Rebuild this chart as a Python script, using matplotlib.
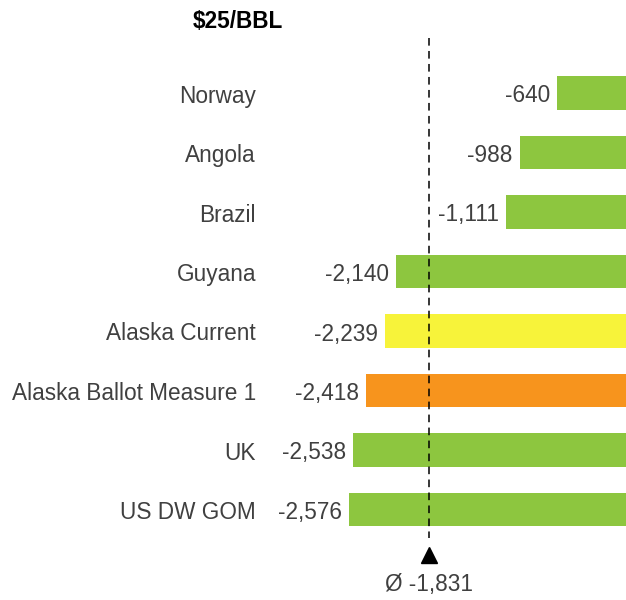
import matplotlib
matplotlib.use("Agg")
import matplotlib.pyplot as plt

categories = ["Norway", "Angola", "Brazil", "Guyana", "Alaska Current",
              "Alaska Ballot Measure 1", "UK", "US DW GOM"]
values = [-640, -988, -1111, -2140, -2239, -2418, -2538, -2576]
kinds = ["other", "other", "other", "other", "current", "ballot", "other", "other"]
average = -1831
title = "$25/BBL"

color_map = {"other": "#8DC63F", "current": "#F7F33A", "ballot": "#F7941D"}

plt.rcParams['font.family'] = ['Liberation Sans', 'DejaVu Sans']

W, H = 626, 600
fig = plt.figure(figsize=(W / 100, H / 100), dpi=100)
ax = fig.add_axes([0, 0, 1, 1])

scale = 0.1077  # px per unit
spacing = 59.5
y0 = 93
xmin = -W / scale
ax.set_xlim(xmin, 0)
ax.set_ylim((H - y0) / spacing, -y0 / spacing)
ax.axis("off")

def px2x(px):
    return -(W - px) / scale

def py2y(py):
    return (py - y0) / spacing

ypos = list(range(len(categories)))
ax.barh(ypos, values, height=0.57, color=[color_map[k] for k in kinds], zorder=1)

txt_color = "#404040"
fs = 16.3
dy = 3 / spacing
for y, v, c in zip(ypos, values, categories):
    ax.annotate(f"{v:,}", xy=(v, y + dy), xytext=(-5, 0), textcoords="offset points",
                ha="right", va="center", fontsize=fs, color=txt_color)
    ax.text(px2x(256), y + dy, c, ha="right", va="center", fontsize=fs, color=txt_color)

ax.plot([average, average], [py2y(38), py2y(538)], color="black", lw=1.1,
        linestyle=(0, (5, 3.5)), zorder=3)
ax.plot([average], [py2y(555)], marker="^", markersize=11, color="black",
        linestyle="none", zorder=3)
ax.text(average, py2y(585), f"Ø {average:,}", ha="center", va="center",
        fontsize=fs, color=txt_color)

ax.text(px2x(238), py2y(21), title, ha="center", va="center", fontsize=fs,
        fontweight="bold", color="black")

fig.savefig("out.png", dpi=100)
